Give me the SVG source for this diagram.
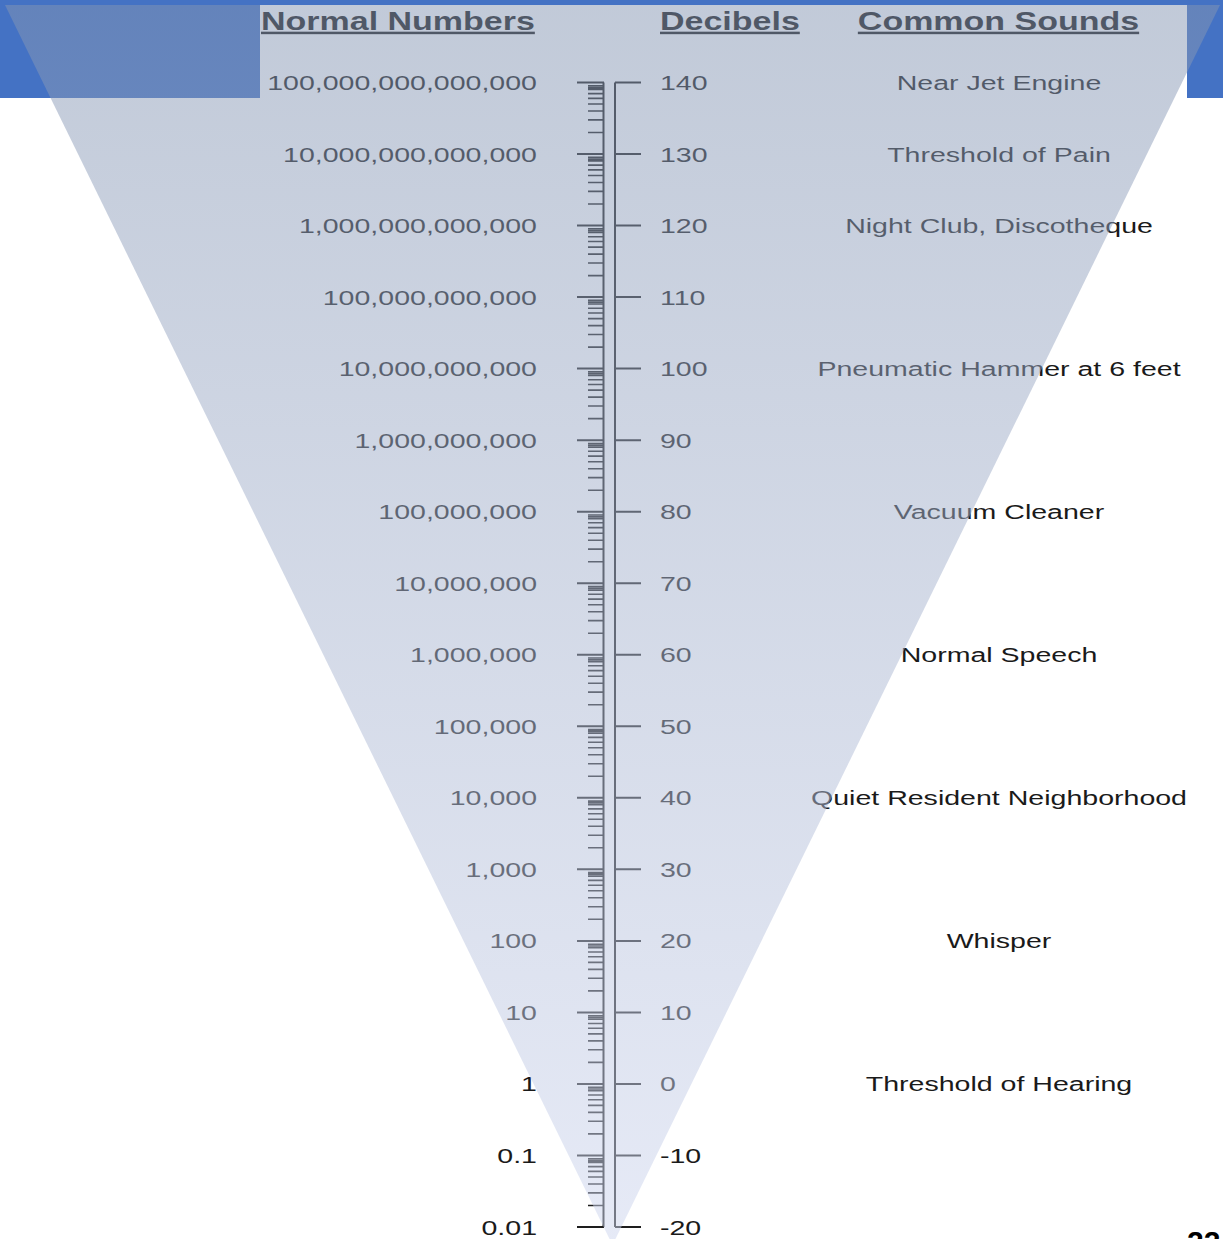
<svg xmlns="http://www.w3.org/2000/svg" xmlns:xlink="http://www.w3.org/1999/xlink" width="1223" height="1239" viewBox="0 0 1223 1239">
  <style>
    text { font-family: "Liberation Sans", Arial, sans-serif; fill: #1a1a1a; }
    .hd { font-size: 25px; font-weight: bold; text-decoration: underline; }
    .num { font-size: 21px; text-anchor: end; }
    .db { font-size: 21px; text-anchor: start; }
    .snd { font-size: 21px; text-anchor: middle; }
    .major { stroke: #1e1e1e; stroke-width: 2; fill: none; }
    .minor { stroke: #1e1e1e; stroke-width: 1.6; fill: none; }
    .page { font-size: 30px; font-weight: bold; fill: #000; }
  </style>
  <defs>
    <linearGradient id="fan" gradientUnits="userSpaceOnUse" x1="0" y1="5" x2="0" y2="1245">
      <stop offset="0" stop-color="#8495B2" stop-opacity="0.5"/>
      <stop offset="1" stop-color="#CDD5EE" stop-opacity="0.5"/>
    </linearGradient>
    <g id="decade">
      <path class="major" d="M577,0 H604 M615,0 H641"/>
      <path class="minor" d="M588,3.3 H604 M588,5.1 H604 M588,6.9 H604 M588,11.1 H604 M588,15.9 H604 M588,21.5 H604 M588,28.5 H604 M588,37.4 H604 M588,50 H604"/>
    </g>
  </defs>

  <g id="background">
    <rect x="0" y="0" width="1223" height="1239" fill="#ffffff"/>
    <rect x="0" y="0" width="1223" height="98" fill="#4472C4"/>
    <rect x="260" y="5" width="927" height="93" fill="#ffffff"/>
  </g>

  <g id="headers">
    <text class="hd" transform="translate(261,30) scale(1.36,1)">Normal Numbers</text>
    <text class="hd" transform="translate(660,30) scale(1.36,1)">Decibels</text>
    <text class="hd" text-anchor="middle" transform="translate(998.5,30) scale(1.36,1)">Common Sounds</text>
  </g>

  <g id="scale">
    <path class="major" d="M603.5,82.5 V1227 M615,82.5 V1227"/>
    <use xlink:href="#decade" y="82.5"/>
    <use xlink:href="#decade" y="154.0"/>
    <use xlink:href="#decade" y="225.6"/>
    <use xlink:href="#decade" y="297.1"/>
    <use xlink:href="#decade" y="368.6"/>
    <use xlink:href="#decade" y="440.2"/>
    <use xlink:href="#decade" y="511.7"/>
    <use xlink:href="#decade" y="583.2"/>
    <use xlink:href="#decade" y="654.7"/>
    <use xlink:href="#decade" y="726.3"/>
    <use xlink:href="#decade" y="797.8"/>
    <use xlink:href="#decade" y="869.3"/>
    <use xlink:href="#decade" y="940.9"/>
    <use xlink:href="#decade" y="1012.4"/>
    <use xlink:href="#decade" y="1083.9"/>
    <use xlink:href="#decade" y="1155.5"/>
    <path class="major" d="M577,1227 H604 M615,1227 H641"/>
  </g>

  <g id="normal-numbers">
    <text class="num" transform="translate(537,90) scale(1.36,1)">100,000,000,000,000</text>
    <text class="num" transform="translate(537,161.5) scale(1.36,1)">10,000,000,000,000</text>
    <text class="num" transform="translate(537,233.1) scale(1.36,1)">1,000,000,000,000</text>
    <text class="num" transform="translate(537,304.6) scale(1.36,1)">100,000,000,000</text>
    <text class="num" transform="translate(537,376.1) scale(1.36,1)">10,000,000,000</text>
    <text class="num" transform="translate(537,447.7) scale(1.36,1)">1,000,000,000</text>
    <text class="num" transform="translate(537,519.2) scale(1.36,1)">100,000,000</text>
    <text class="num" transform="translate(537,590.7) scale(1.36,1)">10,000,000</text>
    <text class="num" transform="translate(537,662.2) scale(1.36,1)">1,000,000</text>
    <text class="num" transform="translate(537,733.8) scale(1.36,1)">100,000</text>
    <text class="num" transform="translate(537,805.3) scale(1.36,1)">10,000</text>
    <text class="num" transform="translate(537,876.8) scale(1.36,1)">1,000</text>
    <text class="num" transform="translate(537,948.4) scale(1.36,1)">100</text>
    <text class="num" transform="translate(537,1019.9) scale(1.36,1)">10</text>
    <text class="num" transform="translate(537,1091.4) scale(1.36,1)">1</text>
    <text class="num" transform="translate(537,1163) scale(1.36,1)">0.1</text>
    <text class="num" transform="translate(537,1234.5) scale(1.36,1)">0.01</text>
  </g>

  <g id="decibels">
    <text class="db" transform="translate(660,90) scale(1.36,1)">140</text>
    <text class="db" transform="translate(660,161.5) scale(1.36,1)">130</text>
    <text class="db" transform="translate(660,233.1) scale(1.36,1)">120</text>
    <text class="db" transform="translate(660,304.6) scale(1.36,1)">110</text>
    <text class="db" transform="translate(660,376.1) scale(1.36,1)">100</text>
    <text class="db" transform="translate(660,447.7) scale(1.36,1)">90</text>
    <text class="db" transform="translate(660,519.2) scale(1.36,1)">80</text>
    <text class="db" transform="translate(660,590.7) scale(1.36,1)">70</text>
    <text class="db" transform="translate(660,662.2) scale(1.36,1)">60</text>
    <text class="db" transform="translate(660,733.8) scale(1.36,1)">50</text>
    <text class="db" transform="translate(660,805.3) scale(1.36,1)">40</text>
    <text class="db" transform="translate(660,876.8) scale(1.36,1)">30</text>
    <text class="db" transform="translate(660,948.4) scale(1.36,1)">20</text>
    <text class="db" transform="translate(660,1019.9) scale(1.36,1)">10</text>
    <text class="db" transform="translate(660,1091.4) scale(1.36,1)">0</text>
    <text class="db" transform="translate(660,1163) scale(1.36,1)">-10</text>
    <text class="db" transform="translate(660,1234.5) scale(1.36,1)">-20</text>
  </g>

  <g id="common-sounds">
    <text class="snd" transform="translate(999,90) scale(1.36,1)">Near Jet Engine</text>
    <text class="snd" transform="translate(999,161.5) scale(1.36,1)">Threshold of Pain</text>
    <text class="snd" transform="translate(999,233.1) scale(1.36,1)">Night Club, Discotheque</text>
    <text class="snd" transform="translate(999,376.1) scale(1.36,1)">Pneumatic Hammer at 6 feet</text>
    <text class="snd" transform="translate(999,519.2) scale(1.36,1)">Vacuum Cleaner</text>
    <text class="snd" transform="translate(999,662.2) scale(1.36,1)">Normal Speech</text>
    <text class="snd" transform="translate(999,805.3) scale(1.36,1)">Quiet Resident Neighborhood</text>
    <text class="snd" transform="translate(999,948.4) scale(1.36,1)">Whisper</text>
    <text class="snd" transform="translate(999,1091.4) scale(1.36,1)">Threshold of Hearing</text>
  </g>

  <g id="overlay">
    <polygon points="5,5 1220,5 612.5,1245" fill="url(#fan)"/>
  </g>

  <g id="slide-number">
    <text class="page" x="1187" y="1252">22</text>
  </g>
</svg>
